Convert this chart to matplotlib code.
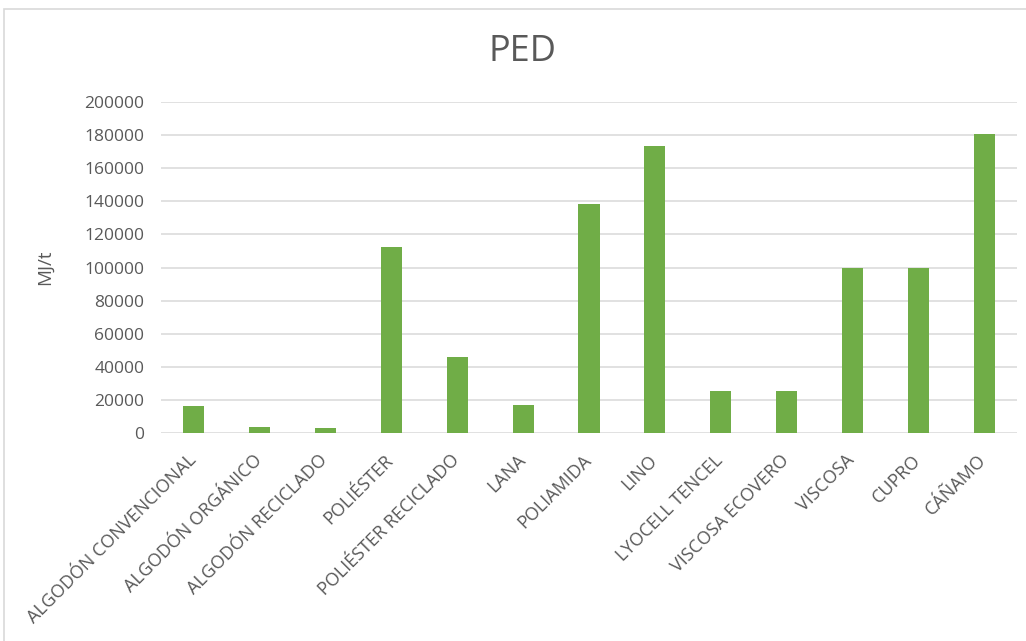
import matplotlib.pyplot as plt
from matplotlib.patches import Rectangle
from matplotlib.transforms import ScaledTranslation

# Primary energy demand per fibre (MJ per tonne)
fibras = [
    "ALGODÓN CONVENCIONAL",
    "ALGODÓN ORGÁNICO",
    "ALGODÓN RECICLADO",
    "POLIÉSTER",
    "POLIÉSTER RECICLADO",
    "LANA",
    "POLIAMIDA",
    "LINO",
    "LYOCELL TENCEL",
    "VISCOSA ECOVERO",
    "VISCOSA",
    "CUPRO",
    "CÁÑAMO",
]
ped = [16600, 3900, 3000, 112300, 45700, 17200, 138600, 173200,
       25600, 25600, 100000, 100000, 180400]
yticks = list(range(0, 200001, 20000))

TEXT = "#595959"
GRID = "#d9d9d9"
BAR = "#70ad47"

plt.rcParams["font.family"] = ["Open Sans", "DejaVu Sans"]

fig = plt.figure(figsize=(10.26, 6.41), dpi=100)
fig.patches.append(Rectangle((4 / 1026, -0.1), 1.2, 1.1 - 9 / 641,
                             transform=fig.transFigure, fill=False,
                             edgecolor="#d9d9d9", linewidth=1.2))

ax = fig.add_axes([161 / 1026, 1 - 433 / 641, (1017 - 161) / 1026, (433 - 102) / 641])
x = list(range(len(fibras)))
ax.bar(x, ped, width=0.32, color=BAR, zorder=3)

ax.set_xlim(-0.5, len(fibras) - 0.5)
ax.set_ylim(0, 200000)
ax.set_yticks(yticks)
ax.set_yticklabels([str(v) for v in yticks], fontsize=12.5, color=TEXT)
ax.yaxis.grid(True, color=GRID, linewidth=1.1, zorder=0)
ax.tick_params(axis="both", length=0)
ax.tick_params(axis="y", pad=12)
for side in ["top", "right", "left", "bottom"]:
    ax.spines[side].set_visible(False)

ax.set_xticks(x)
ax.set_xticklabels(fibras, rotation=45, ha="right", va="top",
                   rotation_mode="anchor", fontsize=13, color=TEXT)
ax.tick_params(axis="x", pad=13)
# nudge the slanted category names a little to the left of each bar
shift = ScaledTranslation(-7 / 100, 0, fig.dpi_scale_trans)
for lbl in ax.get_xticklabels():
    lbl.set_transform(lbl.get_transform() + shift)

ax.set_ylabel("MJ/t", fontsize=13.5, color=TEXT, labelpad=22)
fig.text(523 / 1026, 1 - 52 / 641, "PED", ha="center", va="center",
         fontsize=26, color=TEXT)

fig.savefig("out.png", dpi=100)
